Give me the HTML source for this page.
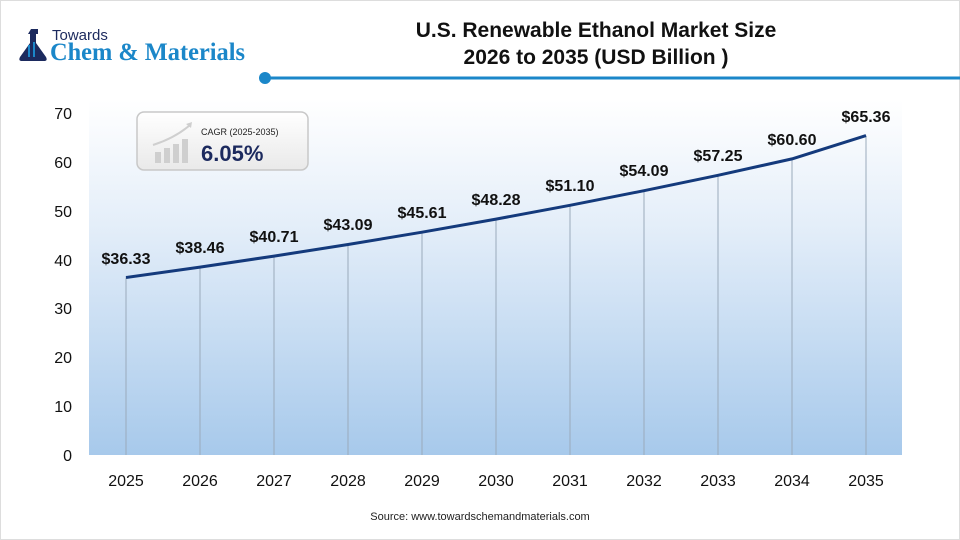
<!DOCTYPE html>
<html><head><meta charset="utf-8"><style>
body{margin:0;background:#fff;}
svg{display:block;font-family:"Liberation Sans",sans-serif;}
</style></head><body>
<svg width="960" height="540" viewBox="0 0 960 540">
<defs>
<linearGradient id="bg" x1="0" y1="0" x2="0" y2="1">
<stop offset="0" stop-color="#ffffff"/>
<stop offset="0.35" stop-color="#e4eef9"/>
<stop offset="1" stop-color="#a7c9eb"/>
</linearGradient>
<linearGradient id="box" x1="0" y1="0" x2="0" y2="1">
<stop offset="0" stop-color="#ffffff"/>
<stop offset="1" stop-color="#e9e9e9"/>
</linearGradient>
</defs>
<rect x="0.5" y="0.5" width="959" height="539" fill="#fff" stroke="#ddd"/>
<!-- logo -->
<g>
<path d="M31 29 h7 v5 h-2 v9 l10 14 q2 4 -2 4 h-22 q-4 0 -2 -4 l10 -14 v-9 h-2z" fill="#1c2a5e"/>
<rect x="28" y="45" width="2" height="12" fill="#1b87c9"/>
<rect x="33" y="42" width="2" height="15" fill="#1b87c9"/>
<text x="52" y="40" font-size="15" fill="#1c2a5e">Towards</text>
<text x="50" y="60" font-size="25" font-weight="bold" fill="#1b87c9" font-family="Liberation Serif,serif" textLength="195" lengthAdjust="spacingAndGlyphs">Chem &amp; Materials</text>
</g>
<!-- title -->
<text x="596" y="37" font-size="21" font-weight="bold" fill="#111" text-anchor="middle">U.S. Renewable Ethanol Market Size</text>
<text x="596" y="64" font-size="21" font-weight="bold" fill="#111" text-anchor="middle">2026 to 2035 (USD Billion )</text>
<line x1="265" y1="78" x2="960" y2="78" stroke="#1b87c9" stroke-width="3"/>
<circle cx="265" cy="78" r="6" fill="#1b87c9"/>
<!-- plot -->
<rect x="89" y="100" width="813" height="355" fill="url(#bg)"/>
<g font-size="16" fill="#111" text-anchor="end">
<text x="72" y="461">0</text><text x="72" y="412">10</text><text x="72" y="363">20</text>
<text x="72" y="314">30</text><text x="72" y="266">40</text><text x="72" y="217">50</text>
<text x="72" y="168">60</text><text x="72" y="119">70</text>
</g>
<g stroke="#9aaabb" stroke-width="1">
<line x1="126" y1="277.5" x2="126" y2="455"/><line x1="200" y1="267.1" x2="200" y2="455"/>
<line x1="274" y1="256.1" x2="274" y2="455"/><line x1="348" y1="244.5" x2="348" y2="455"/>
<line x1="422" y1="232.2" x2="422" y2="455"/><line x1="496" y1="219.1" x2="496" y2="455"/>
<line x1="570" y1="205.3" x2="570" y2="455"/><line x1="644" y1="190.7" x2="644" y2="455"/>
<line x1="718" y1="175.3" x2="718" y2="455"/><line x1="792" y1="158.9" x2="792" y2="455"/>
<line x1="866" y1="135.6" x2="866" y2="455"/>
</g>
<polyline fill="none" stroke="#143a7c" stroke-width="3" stroke-linejoin="round" points="126,277.5 200,267.1 274,256.1 348,244.5 422,232.2 496,219.1 570,205.3 644,190.7 718,175.3 792,158.9 866,135.6"/>
<g font-size="16" font-weight="bold" fill="#111" text-anchor="middle">
<text x="126" y="264">$36.33</text><text x="200" y="253">$38.46</text><text x="274" y="242">$40.71</text>
<text x="348" y="230">$43.09</text><text x="422" y="218">$45.61</text><text x="496" y="205">$48.28</text>
<text x="570" y="191">$51.10</text><text x="644" y="176">$54.09</text><text x="718" y="161">$57.25</text>
<text x="792" y="145">$60.60</text><text x="866" y="122">$65.36</text>
</g>
<g font-size="16" fill="#111" text-anchor="middle">
<text x="126" y="486">2025</text><text x="200" y="486">2026</text><text x="274" y="486">2027</text>
<text x="348" y="486">2028</text><text x="422" y="486">2029</text><text x="496" y="486">2030</text>
<text x="570" y="486">2031</text><text x="644" y="486">2032</text><text x="718" y="486">2033</text>
<text x="792" y="486">2034</text><text x="866" y="486">2035</text>
</g>
<text x="480" y="520" font-size="11" fill="#222" text-anchor="middle">Source: www.towardschemandmaterials.com</text>
<!-- CAGR box -->
<rect x="137" y="112" width="171" height="58" rx="7" fill="url(#box)" stroke="#c8c8c8" stroke-width="1.5"/>
<g fill="#cfcfcf">
<rect x="155" y="152" width="6" height="11"/><rect x="164" y="148" width="6" height="15"/>
<rect x="173" y="144" width="6" height="19"/><rect x="182" y="139" width="6" height="24"/>
</g>
<path d="M153 145 Q175 138 190 125" fill="none" stroke="#cfcfcf" stroke-width="2"/>
<path d="M186 124 l6 -2 l-1 6z" fill="#cfcfcf"/>
<text x="201" y="135" font-size="9" fill="#222">CAGR (2025-2035)</text>
<text x="201" y="161" font-size="22" font-weight="bold" fill="#1c2a5e">6.05%</text>
</svg>
</body></html>
